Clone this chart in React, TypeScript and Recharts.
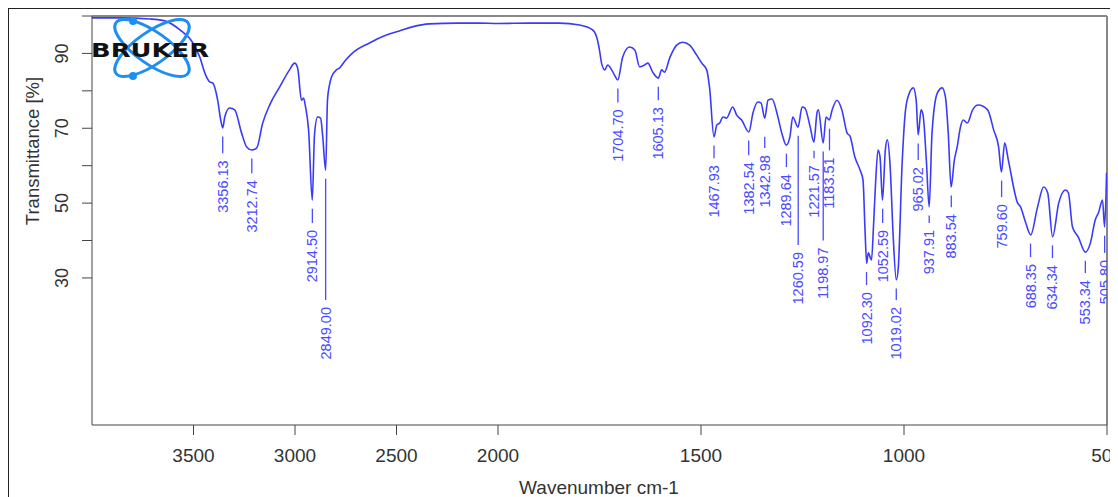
import React from "react";
import {
  ComposedChart,
  Line,
  Scatter,
  XAxis,
  YAxis,
  ReferenceLine,
} from "recharts";

// spectrum (cm-1 / %T), rows of ten
const wavenumbers = [
  4000, 3862, 3715, 3641, 3567, 3503, 3469, 3440, 3420, 3405,
  3381, 3366, 3356, 3346, 3322, 3297, 3263, 3238, 3213, 3189,
  3159, 3125, 3076, 3027, 3002, 2987, 2968, 2958, 2948, 2933,
  2915, 2904, 2889, 2874, 2864, 2849, 2840, 2830, 2820, 2796,
  2781, 2751, 2717, 2633, 2550, 2486, 2422, 2338, 2200, 2093,
  2000, 1923, 1849, 1799, 1767, 1757, 1750, 1745, 1737, 1730,
  1720, 1712, 1705, 1693, 1676, 1663, 1651, 1639, 1631, 1619,
  1605, 1597, 1590, 1577, 1560, 1545, 1528, 1511, 1498, 1486,
  1479, 1468, 1461, 1454, 1446, 1437, 1422, 1412, 1400, 1382,
  1372, 1360, 1352, 1343, 1335, 1325, 1313, 1301, 1290, 1281,
  1274, 1261, 1251, 1244, 1231, 1222, 1214, 1211, 1199, 1192,
  1184, 1177, 1165, 1153, 1140, 1133, 1121, 1108, 1101, 1096,
  1092, 1088, 1080, 1075, 1070, 1064, 1059, 1053, 1046, 1041,
  1034, 1027, 1019, 1014, 1005, 997, 990, 977, 970, 965,
  958, 953, 945, 938, 931, 918, 906, 898, 891, 884,
  876, 869, 861, 854, 844, 831, 817, 794, 779, 767,
  760, 752, 743, 720, 713, 701, 688, 671, 656, 646,
  634, 619, 602, 595, 585, 571, 553, 541, 529, 521,
  511, 506, 501,
];

const transmittance = [
  99.5, 99.5, 99.2, 98.7, 96.3, 92.8, 89.0, 84.2, 82.4, 82.1,
  77.5, 72.2, 70.1, 73.0, 75.4, 74.9, 68.7, 65.0, 64.2, 64.7,
  71.4, 76.2, 81.0, 85.6, 87.4, 86.1, 77.5, 78.1, 75.7, 69.5,
  50.8, 68.2, 73.0, 72.7, 68.2, 58.8, 77.5, 81.6, 83.7, 85.6,
  86.1, 88.2, 90.1, 92.8, 94.9, 96.0, 97.1, 97.9, 98.1, 98.1,
  98.0, 98.1, 98.1, 97.6, 96.3, 94.4, 90.9, 87.4, 85.6, 86.9,
  85.6, 84.0, 82.9, 89.0, 91.7, 90.9, 86.4, 86.9, 87.4, 85.0,
  83.4, 85.6, 85.0, 88.8, 92.2, 93.0, 92.2, 89.6, 87.4, 85.6,
  81.0, 67.7, 70.9, 71.4, 73.0, 72.7, 75.7, 73.5, 72.2, 69.0,
  74.1, 77.0, 76.7, 72.7, 77.5, 77.8, 74.1, 68.7, 65.5, 67.7,
  73.0, 70.3, 75.7, 75.4, 70.3, 66.3, 74.3, 74.9, 66.1, 73.0,
  72.2, 74.9, 77.5, 74.9, 68.7, 67.9, 62.3, 58.8, 56.2, 42.8,
  33.9, 36.7, 34.8, 44.1, 55.4, 64.2, 62.3, 50.8, 64.2, 66.9,
  59.6, 42.0, 29.5, 32.9, 59.6, 74.1, 78.4, 80.8, 77.5, 68.2,
  74.9, 73.5, 61.5, 49.0, 68.7, 79.4, 80.8, 78.4, 68.7, 54.3,
  61.5, 65.0, 70.3, 72.2, 71.4, 74.9, 76.2, 74.9, 69.5, 65.0,
  58.3, 66.1, 61.5, 50.0, 49.0, 45.0, 41.5, 49.0, 54.3, 52.7,
  41.0, 50.0, 53.5, 52.7, 43.6, 41.0, 36.9, 39.3, 45.5, 47.4,
  50.8, 43.6, 58.1,
];

// picked peaks: position, %T at the minimum, %T where the label line ends
const peakLabels = [
  "3356.13", "3212.74", "2914.50", "2849.00", "1704.70", "1605.13", "1467.93",
  "1382.54", "1342.98", "1289.64", "1260.59", "1221.57", "1198.97", "1183.51",
  "1092.30", "1052.59", "1019.02", "965.02", "937.91", "883.54", "759.60",
  "688.35", "634.34", "553.34", "505.80",
];
const peakDepths = [
  70.1, 64.2, 50.8, 58.8, 82.9, 83.4, 67.7,
  69.0, 70.0, 65.5, 70.3, 66.3, 66.1, 72.2,
  33.9, 50.8, 29.5, 68.2, 49.0, 54.3, 58.3,
  41.5, 41.0, 36.9, 43.6,
];
const peakLineEnds = [
  63.3, 58.0, 44.7, 24.1, 76.9, 77.5, 62.0,
  62.8, 64.7, 59.6, 38.8, 62.0, 40.0, 64.1,
  28.1, 44.7, 24.1, 61.5, 44.7, 48.9, 51.6,
  35.6, 35.3, 31.3, 36.7,
];

const xTickWavenumbers = [3500, 3000, 2500, 2000, 1500, 1000, 500];
const yTicks = [30, 40, 50, 60, 70, 80, 90, 100];
const yLabelled = [30, 50, 70, 90];

// OPUS axis: 4000-2000 drawn at half the scale of 2000-500
const toPos = (w: number) => (w >= 2000 ? (4000 - w) / 2 : 1000 + (2000 - w));
const fromPos = (p: number) => (p <= 1000 ? 4000 - p * 2 : 2000 - (p - 1000));

const spectrum = wavenumbers.map((w, i) => ({ p: toPos(w), t: transmittance[i] }));
const peaks = peakLabels.map((label, i) => ({
  p: toPos(parseFloat(label)),
  depth: peakDepths[i],
  t: peakLineEnds[i],
  label,
}));

const FONT = "'Liberation Sans', Arial, Helvetica, sans-serif";
const BLUE = "#3b3bf7";
const LABEL_BLUE = "#4a4aff";

const YTick = (props: any) => {
  const { x, y, payload } = props;
  if (!yLabelled.includes(payload.value)) return <g />;
  return (
    <text
      x={x}
      y={y}
      transform={`rotate(-90 ${x} ${y})`}
      textAnchor="middle"
      fontSize={18}
      fontFamily={FONT}
      fill="#333"
    >
      {payload.value}
    </text>
  );
};

const PeakText = (props: any) => {
  const { cx, cy, payload } = props;
  const y = cy + 7;
  return (
    <text
      x={cx}
      y={y}
      transform={`rotate(-90 ${cx} ${y})`}
      textAnchor="end"
      dominantBaseline="central"
      fontSize={14.5}
      fontFamily={FONT}
      fill={LABEL_BLUE}
    >
      {payload.label}
    </text>
  );
};

const YTitle = () => (
  <text
    x={30}
    y={142}
    transform="rotate(-90 30 142)"
    textAnchor="middle"
    fontSize={18.5}
    fontFamily={FONT}
    fill="#333"
  >
    Transmittance [%]
  </text>
);

const XTitle = () => (
  <text x={590} y={485} textAnchor="middle" fontSize={19} fontFamily={FONT} fill="#333">
    Wavenumber cm-1
  </text>
);

const Logo = () => (
  <svg
    width={220}
    height={90}
    style={{ position: "absolute", left: 0, top: 0, pointerEvents: "none" }}
  >
    <g fill="none" stroke="#1e8ef0" strokeWidth={3}>
      <ellipse cx={143} cy={39} rx={44} ry={16} transform="rotate(35 143 39)" />
      <ellipse cx={143} cy={39} rx={44} ry={16} transform="rotate(-35 143 39)" />
    </g>
    <circle cx={124} cy={12} r={4} fill="#1e8ef0" />
    <circle cx={124} cy={67} r={4} fill="#1e8ef0" />
    <text
      x={82}
      y={48}
      fontSize={19}
      fontWeight={900}
      fontFamily="'DejaVu Sans', sans-serif"
      textLength={118}
      lengthAdjust="spacingAndGlyphs"
      fill="#111"
    >
      BRUKER
    </text>
  </svg>
);

export default function App() {
  return (
    <div
      style={{
        position: "relative",
        width: 1110,
        height: 489,
        borderLeft: "1px solid #222",
        borderTop: "1px solid #222",
        background: "#fff",
      }}
    >
      <ComposedChart width={1109} height={488} margin={{ top: 7, right: 11, bottom: 0, left: 0 }}>
        <XAxis
          type="number"
          dataKey="p"
          domain={[0, 2500]}
          allowDataOverflow
          ticks={xTickWavenumbers.map(toPos)}
          interval={0}
          tickFormatter={(v: number) => String(Math.round(fromPos(v)))}
          tickSize={10}
          tickMargin={14}
          height={72}
          axisLine={{ stroke: "#444" }}
          tickLine={{ stroke: "#444" }}
          tick={{ fill: "#333", fontSize: 19, fontFamily: FONT }}
          label={<XTitle />}
        />
        <YAxis
          type="number"
          dataKey="t"
          domain={[-9.3, 100]}
          allowDataOverflow
          ticks={yTicks}
          interval={0}
          width={83}
          tickSize={10}
          tickMargin={14}
          axisLine={{ stroke: "#444" }}
          tickLine={{ stroke: "#444" }}
          tick={<YTick />}
          label={<YTitle />}
        />
        <ReferenceLine y={100} stroke="#888" strokeWidth={2} />
        <ReferenceLine x={2500} stroke="#888" strokeWidth={2} />
        {peaks.map((pk) => (
          <ReferenceLine
            key={pk.label}
            segment={[
              { x: pk.p, y: pk.depth - 2.3 },
              { x: pk.p, y: pk.t },
            ]}
            stroke={LABEL_BLUE}
            strokeWidth={1.3}
          />
        ))}
        <Line
          data={spectrum}
          dataKey="t"
          type="monotone"
          stroke={BLUE}
          strokeWidth={1.6}
          dot={false}
          isAnimationActive={false}
        />
        <Scatter data={peaks} dataKey="t" shape={<PeakText />} isAnimationActive={false} />
      </ComposedChart>
      <Logo />
    </div>
  );
}
